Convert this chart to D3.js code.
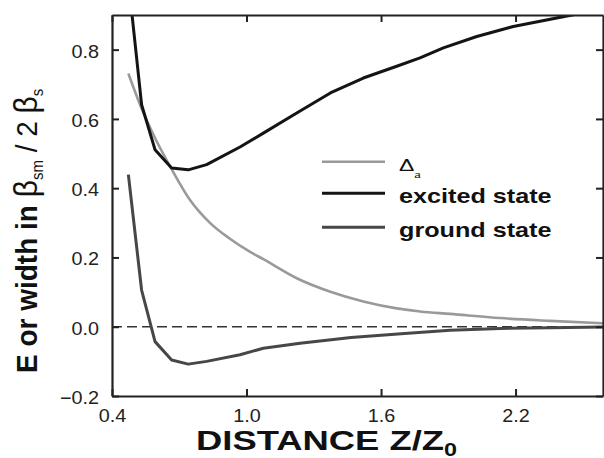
<!DOCTYPE html>
<html>
<head>
<meta charset="utf-8">
<script src="https://cdn.jsdelivr.net/npm/d3@7"></script>
<style>
  body { margin: 0; background: #fff; }
  svg { display: block; }
</style>
</head>
<body>
<svg id="chart" width="604" height="458"></svg>
<script>
// Axis ticks
const xTicks = [0.4, 1.0, 1.6, 2.2];
const yTicks = [-0.2, 0.0, 0.2, 0.4, 0.6, 0.8];

// Δa (width) versus distance
const deltaDist = [0.473, 0.532, 0.592, 0.666, 0.748, 0.837, 0.926, 1.016, 1.075, 1.224, 1.374, 1.521, 1.670, 1.774, 1.908, 2.131, 2.354, 2.59];
const deltaA    = [0.731, 0.630, 0.545, 0.455, 0.366, 0.300, 0.254, 0.216, 0.195, 0.140, 0.101, 0.073, 0.053, 0.044, 0.037, 0.025, 0.017, 0.010];

// excited-state energy
const excitedDist = [0.473, 0.532, 0.592, 0.666, 0.740, 0.822, 0.971, 1.075, 1.224, 1.374, 1.521, 1.670, 1.774, 1.878, 2.027, 2.190, 2.458, 2.59];
const excitedE    = [1.000, 0.641, 0.511, 0.458, 0.453, 0.468, 0.519, 0.559, 0.617, 0.675, 0.718, 0.752, 0.776, 0.805, 0.838, 0.867, 0.901, 0.917];

// ground-state energy
const groundDist = [0.473, 0.532, 0.592, 0.666, 0.740, 0.822, 0.971, 1.075, 1.239, 1.466, 1.690, 1.908, 2.131, 2.354, 2.59];
const groundE    = [0.439, 0.106, -0.043, -0.096, -0.108, -0.100, -0.081, -0.062, -0.048, -0.031, -0.020, -0.010, -0.005, -0.003, -0.001];

const seriesNames  = ["Δ", "excited state", "ground state"];
const seriesColors = ["#9a9a9a", "#141414", "#474747"];

const svg = d3.select("#chart");
const W = 604, H = 458;
const plot = { left: 112, right: 603, top: 15, bottom: 396 };

svg.append("rect").attr("width", W).attr("height", H).attr("fill", "#fff");

const x = d3.scaleLinear().domain([0.4, 2.59]).range([plot.left, plot.right]);
const y = d3.scaleLinear().domain([-0.2, 0.9]).range([plot.bottom, plot.top]);

const FONT = "'Liberation Sans', Arial, Helvetica, sans-serif";

// clip the curves to the frame
svg.append("clipPath").attr("id", "plot-clip")
  .append("rect")
  .attr("x", plot.left).attr("y", plot.top)
  .attr("width", plot.right - plot.left).attr("height", plot.bottom - plot.top);

// zero reference
svg.append("line")
  .attr("x1", plot.left).attr("x2", plot.right)
  .attr("y1", y(0)).attr("y2", y(0))
  .attr("stroke", "#333").attr("stroke-width", 1.6)
  .attr("stroke-dasharray", "10,5");

const curves = svg.append("g").attr("clip-path", "url(#plot-clip)");
const lineLinear = d3.line().x(d => x(d[0])).y(d => y(d[1]));
const lineSmooth = d3.line().x(d => x(d[0])).y(d => y(d[1])).curve(d3.curveMonotoneX);

curves.append("path")
  .datum(deltaDist.map((d, i) => [d, deltaA[i]]))
  .attr("d", lineSmooth)
  .attr("fill", "none").attr("stroke", seriesColors[0]).attr("stroke-width", 2.6)
  .attr("stroke-linejoin", "round");

curves.append("path")
  .datum(groundDist.map((d, i) => [d, groundE[i]]))
  .attr("d", lineLinear)
  .attr("fill", "none").attr("stroke", seriesColors[2]).attr("stroke-width", 3)
  .attr("stroke-linejoin", "round");

curves.append("path")
  .datum(excitedDist.map((d, i) => [d, excitedE[i]]))
  .attr("d", lineLinear)
  .attr("fill", "none").attr("stroke", seriesColors[1]).attr("stroke-width", 3)
  .attr("stroke-linejoin", "round");

// frame axes with inward ticks
function styleAxis(g) {
  g.selectAll(".domain").attr("stroke", "#222").attr("stroke-width", 2.2);
  g.selectAll(".tick line").attr("stroke", "#222").attr("stroke-width", 2);
}

const fmt = d => (d < 0 ? "\u2212" : "") + Math.abs(d).toFixed(1);

const gLeft = svg.append("g").attr("transform", `translate(${plot.left},0)`)
  .call(d3.axisLeft(y).tickValues(yTicks).tickSize(-7).tickSizeOuter(0).tickFormat(fmt));
styleAxis(gLeft);
gLeft.selectAll(".tick text")
  .attr("x", null).attr("dy", null)
  .attr("text-anchor", "end")
  .attr("transform", "translate(-13,7.5) scale(1.1,1)")
  .attr("font-family", FONT).attr("font-size", 18).attr("fill", "#222");

const gRight = svg.append("g").attr("transform", `translate(${plot.right},0)`)
  .call(d3.axisRight(y).tickValues(yTicks).tickSize(-7).tickSizeOuter(0).tickFormat(""));
styleAxis(gRight);

const gTop = svg.append("g").attr("transform", `translate(0,${plot.top})`)
  .call(d3.axisTop(x).tickValues(xTicks).tickSize(-7).tickSizeOuter(0).tickFormat(""));
styleAxis(gTop);

const gBottom = svg.append("g").attr("transform", `translate(0,${plot.bottom})`)
  .call(d3.axisBottom(x).tickValues(xTicks).tickSize(-7).tickSizeOuter(0).tickFormat(d3.format(".1f")));
styleAxis(gBottom);
gBottom.selectAll(".tick text")
  .attr("y", null).attr("dy", null)
  .attr("text-anchor", "middle")
  .attr("transform", "translate(0,26) scale(1.1,1)")
  .attr("font-family", FONT).attr("font-size", 18).attr("fill", "#222");

// x-axis title
const xTitle = svg.append("text")
  .attr("transform", "translate(196,450) scale(1.3,1)")
  .attr("font-family", FONT).attr("font-weight", "bold").attr("font-size", 28).attr("fill", "#111");
xTitle.append("tspan").text("DISTANCE Z/Z");
xTitle.append("tspan").attr("font-size", 18).attr("dy", 6).text("0");

// y-axis title
const yTitle = svg.append("text")
  .attr("transform", "translate(37,373) rotate(-90) scale(1,1.08)")
  .attr("font-family", FONT).attr("font-size", 28).attr("fill", "#111");
yTitle.append("tspan").attr("font-weight", "bold").text("E or width in ");
yTitle.append("tspan").attr("font-size", 30).text("β");
yTitle.append("tspan").attr("font-size", 15).attr("dy", 6).text("sm");
yTitle.append("tspan").attr("dy", -6).text(" / 2 ");
yTitle.append("tspan").attr("font-size", 30).text("β");
yTitle.append("tspan").attr("font-size", 15).attr("dy", 6).text("s");

// legend
const legendRows = [161.7, 193.3, 227.3];
const legend = svg.append("g");
seriesNames.forEach((name, i) => {
  legend.append("line")
    .attr("x1", 322).attr("x2", 385)
    .attr("y1", legendRows[i]).attr("y2", legendRows[i])
    .attr("stroke", seriesColors[i]).attr("stroke-width", i === 0 ? 2.6 : 3);
  const t = legend.append("text")
    .attr("font-family", FONT).attr("fill", "#111");
  if (i === 0) {
    t.attr("transform", `translate(399,${legendRows[i] + 9}) scale(1.35,1)`)
      .attr("font-size", 17);
    t.append("tspan").text(name);
    t.append("tspan").attr("font-family", "'Liberation Serif', serif")
      .attr("font-size", 11).attr("dy", 7).text("a");
  } else {
    t.attr("transform", `translate(399,${legendRows[i] + 10}) scale(1.26,1)`)
      .attr("font-size", 20).attr("font-weight", "bold").text(name);
  }
});
</script>
</body>
</html>
